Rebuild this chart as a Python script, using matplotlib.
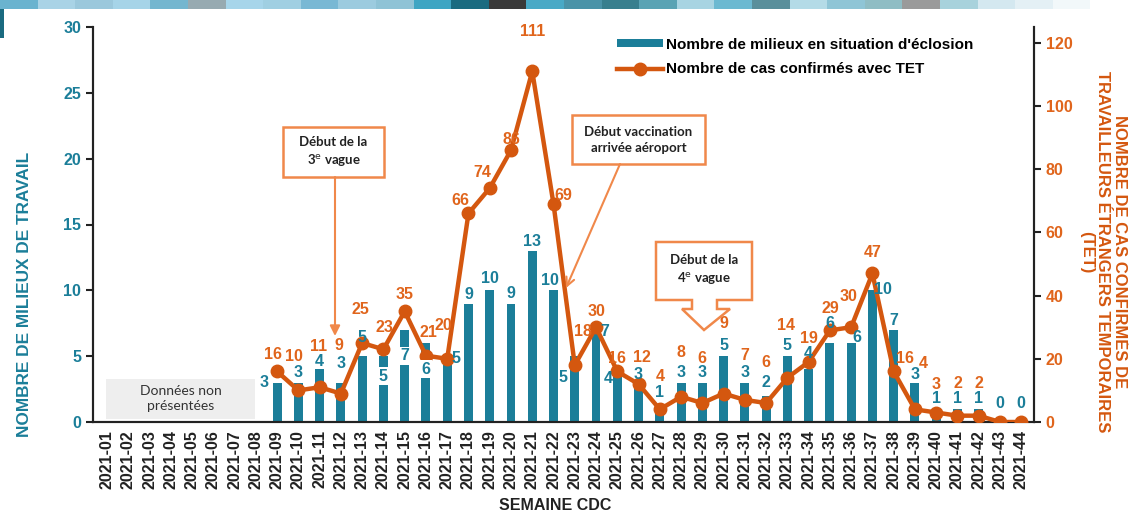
import matplotlib.pyplot as plt
from matplotlib.patches import Rectangle, Polygon, FancyArrowPatch

plt.rcParams['font.family'] = ['Liberation Sans', 'DejaVu Sans']

# Data
weeks = ["2021-%02d" % i for i in range(1, 45)]
bar_weeks = weeks[8:]  # 2021-09 .. 2021-44
milieux = [3, 3, 4, 3, 5, 5, 7, 6, 5, 9, 10, 9, 13, 10, 5, 7, 4, 3, 1, 3,
           3, 5, 3, 2, 5, 4, 6, 6, 10, 7, 3, 1, 1, 1, 0, 0]
cas_tet = [16, 10, 11, 9, 25, 23, 35, 21, 20, 66, 74, 86, 111, 69, 18, 30, 16, 12, 4, 8,
           6, 9, 7, 6, 14, 19, 29, 30, 47, 16, 4, 3, 2, 2, 0, 0]
left_ticks = [0, 5, 10, 15, 20, 25, 30]
right_ticks = [0, 20, 40, 60, 80, 100, 120]

# label placement (pixel offsets from bar top / point), one per week 09..44
bar_off = [(-13, 0), (0, -10), (0, -8), (0, -19), (0, -19), (0, 20), (0, 26), (0, 26),
           (9, 2), (0, -9), (0, -12), (0, -10), (0, -9), (-4, -10), (-12, 21), (9, 2),
           (-9, 9), (0, -8), (0, -16), (0, -10), (0, -10), (0, -11), (0, -10), (0, -13),
           (0, -11), (0, -16), (0, -20), (6, -5), (11, -1), (0, -9), (0, -8), (0, -10),
           (0, -10), (0, -10), (0, -19), (0, -19)]
inside_bar = [5, 6, 7]  # labels drawn inside the bar on white
case_off = [(-4, -17), (-4, -34), (-1, -41), (-2, -48), (-2, -33), (1, -22), (0, -17), (2, -23),
            (-4, -33), (-8, -13), (-7, -16), (0, -11), (0, -40), (10, -8), (8, -34), (0, -16),
            (0, -13), (3, -27), (0, -33), (0, -44), (0, -45), (0, -70), (0, -44), (0, -41),
            (-1, -52), (0, -23), (0, -22), (-3, -31), (0, -21), (11, -13), (8, -46), (0, -28),
            (0, -32), (0, -32), None, None]

TEAL = "#1b7e99"
ORANGE = "#d4570f"
LABEL_OR = "#e0651c"
BOX_OR = "#f0884a"

W, H = 1129, 515

def fx(x):
    return x / W

def fy(y):
    return 1 - y / H

fig = plt.figure(figsize=(W / 100, H / 100), dpi=100)

# top decorative banner
banner = ["#6ab3cf", "#a9d3e6", "#9bc8dc", "#a6d4e8", "#74b6cf", "#97aab1", "#a7d5ea",
          "#a0cfe2", "#79b8d4", "#9ccbdf", "#8fc3d6", "#3ea5c3", "#1a6b80", "#3a3a3a",
          "#49a9c6", "#4a93a8", "#387f8e", "#5aa3b4", "#a8d4e2", "#6cb9d1", "#5a8f9b",
          "#b4dbe7", "#8fc5d6", "#8fbdc4", "#9a9a9a", "#a8d2dc", "#d4e8f0", "#e4f0f5",
          "#f2f8fa", "#ffffff"]
tw = 37.6
for i, c in enumerate(banner):
    fig.add_artist(Rectangle((fx(i * tw), fy(9)), fx(tw + 0.5), 9 / H, color=c,
                             transform=fig.transFigure, lw=0))
fig.add_artist(Rectangle((0, fy(38)), fx(4), 29 / H, color="#1a6b80",
                         transform=fig.transFigure, lw=0))

ax = fig.add_axes([fx(93), fy(422), fx(1034 - 93), (422 - 27) / H])
ax2 = ax.twinx()

x = list(range(len(weeks)))
xb = x[8:]

ax.bar(xb, milieux, width=0.42, color=TEAL, zorder=2,
       label="Nombre de milieux en situation d'éclosion")
ax2.plot(xb, cas_tet, color=ORANGE, lw=3.2, marker="o", ms=9, zorder=3,
         label="Nombre de cas confirmés avec TET")

for i, (xi, v) in enumerate(zip(xb, milieux)):
    dx, dy = bar_off[i]
    bbox = dict(facecolor="white", edgecolor="none", pad=1) if i in inside_bar else None
    ax2.annotate(str(v), (xi, v), xycoords=ax.transData, xytext=(dx, -dy),
                 textcoords="offset pixels", ha="center", va="center", color=TEAL,
                 fontsize=11.5, fontweight="bold", bbox=bbox, zorder=4)

for i, (xi, v) in enumerate(zip(xb, cas_tet)):
    if case_off[i] is None:
        continue
    dx, dy = case_off[i]
    ax2.annotate(str(v), (xi, v), xytext=(dx, -dy), textcoords="offset pixels",
                 ha="center", va="center", color=LABEL_OR, fontsize=11.5,
                 fontweight="bold", zorder=4)

# gray "no data" box
ax.add_patch(Rectangle((-0.05, 0.25), 7.0, 3.05, color="#eeeeee", lw=0, zorder=1))
ax.text(3.45, 1.75, "Données non\nprésentées", ha="center", va="center",
        fontsize=10, color="#333333", family=["Lato", "DejaVu Sans"], linespacing=1.3)

ax.set_xlim(-0.66, 43.6)
ax.set_ylim(0, 30)
ax2.set_ylim(0, 125)
ax.set_yticks(left_ticks)
ax2.set_yticks(right_ticks)
ax.set_xticks(x)
ax.set_xticklabels(weeks, rotation=90, fontsize=11.5, fontweight="bold", color="#222222")
ax.tick_params(axis="x", length=0, pad=6)
ax.tick_params(axis="y", colors="#222222", labelcolor=TEAL, labelsize=11.5, length=5, width=1.5)
ax2.tick_params(axis="y", colors="#222222", labelcolor=LABEL_OR, labelsize=11.5, length=5, width=1.5)
for t in ax.get_yticklabels() + ax2.get_yticklabels():
    t.set_fontweight("bold")
for a in (ax, ax2):
    a.spines["top"].set_visible(False)
    for s in ("left", "right", "bottom"):
        a.spines[s].set_linewidth(1.5)
        a.spines[s].set_color("#222222")

fig.text(fx(25), fy(294), "NOMBRE DE MILIEUX DE TRAVAIL", rotation=90, ha="center", va="center",
         color=TEAL, fontsize=12.4, fontweight="bold")
fig.text(fx(1103), fy(252), "NOMBRE DE CAS CONFIRMÉS DE\nTRAVAILLEURS ÉTRANGERS TEMPORAIRES\n(TET)",
         rotation=270, ha="center", va="center", multialignment="center",
         color=ORANGE, fontsize=12, fontweight="bold", linespacing=1.1)
fig.text(fx(555), fy(506), "SEMAINE CDC", ha="center", va="center",
         color="#222222", fontsize=11.5, fontweight="bold")

# legend
h1, l1 = ax.get_legend_handles_labels()
h2, l2 = ax2.get_legend_handles_labels()
fig.legend(h1 + h2, l1 + l2, loc="upper left", bbox_to_anchor=(fx(603), fy(24)),
           frameon=False, handlelength=3.0, handleheight=0.45, handletextpad=0.2,
           labelspacing=0.7, prop={"weight": "bold", "size": 11})

# annotation boxes
box_font = ["Lato", "DejaVu Sans"]

def note_box(x0, y0, x1, y1, text):
    fig.add_artist(Rectangle((fx(x0), fy(y1)), fx(x1 - x0), (y1 - y0) / H, facecolor="white",
                             edgecolor=BOX_OR, lw=1.8, transform=fig.transFigure, zorder=5))
    fig.text(fx((x0 + x1) / 2), fy((y0 + y1) / 2), text, ha="center", va="center",
             fontsize=9.5, fontweight="bold", family=box_font, color="#222222",
             linespacing=1.4, zorder=6)

note_box(283, 127, 384, 177, "Début de la\n3$^{\\mathrm{e}}$ vague")
fig.add_artist(FancyArrowPatch((fx(335), fy(177)), (fx(335), fy(336)), transform=fig.transFigure,
                               arrowstyle="-|>,head_length=6,head_width=3", color=BOX_OR, lw=1.5,
                               shrinkA=0, shrinkB=0, zorder=5))

note_box(572, 115, 705, 164, "Début vaccination\narrivée aéroport")
fig.add_artist(FancyArrowPatch((fx(620), fy(164)), (fx(566), fy(288)), transform=fig.transFigure,
                               arrowstyle="->,head_length=6,head_width=3", color=BOX_OR, lw=1.5,
                               shrinkA=0, shrinkB=0, zorder=5))

callout = [(656, 242), (752, 242), (752, 300), (717, 300), (717, 309), (730, 309),
           (704, 330), (682, 309), (692, 309), (692, 300), (656, 300)]
fig.add_artist(Polygon([(fx(a), fy(b)) for a, b in callout], closed=True, facecolor="white",
                       edgecolor=BOX_OR, lw=1.8, transform=fig.transFigure, zorder=5))
fig.text(fx(704), fy(270), "Début de la\n4$^{\\mathrm{e}}$ vague", ha="center", va="center",
         fontsize=9.5, fontweight="bold", family=box_font, color="#222222",
         linespacing=1.4, zorder=6)

fig.savefig("out.png", dpi=100)
